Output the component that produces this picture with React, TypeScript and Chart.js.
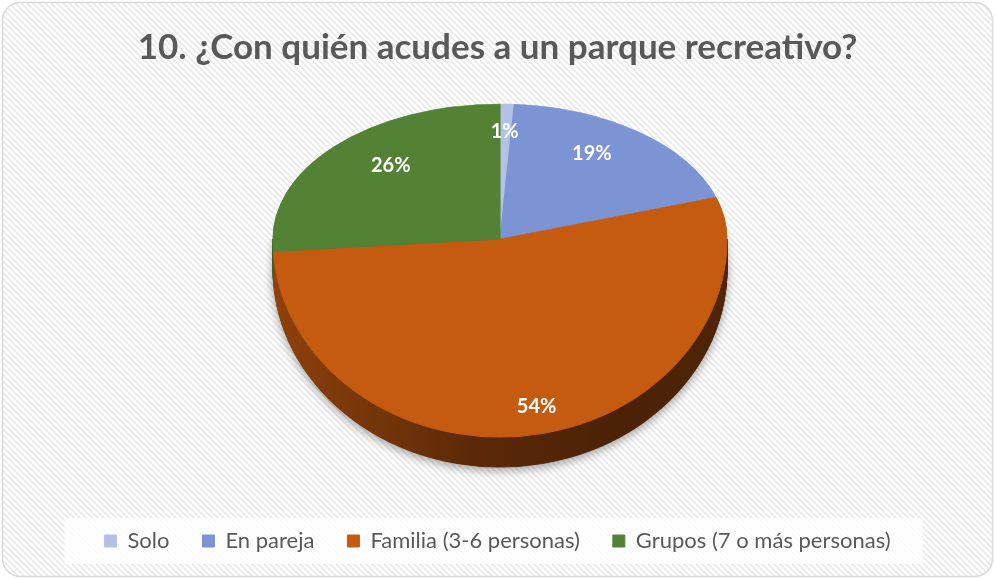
import React, { useEffect, useRef } from "react";
import { Chart, registerables } from "chart.js";

Chart.register(...registerables);

const TITLE = "10. ¿Con quién acudes a un parque recreativo?";
const CATEGORIES = ["Solo", "En pareja", "Familia (3-6 personas)", "Grupos (7 o más personas)"];
const VALUES = [1, 19, 54, 26];
const COLORS = ["#b4c1e6", "#7c94d4", "#c55a11", "#548235"];

const W = 995;
const H = 579;
const PIE_CX = 500;
const PIE_CY = 239;
const RX = 227;
const RY_TOP = 135;
const RY_BOTTOM = 198;
const DEPTH = 30;
const FONT = "Lato, 'Open Sans', sans-serif";
const TEXT_COLOR = "#595959";

function shade(hex: string, f: number) {
  const n = parseInt(hex.slice(1), 16);
  const r = Math.round(((n >> 16) & 255) * f);
  const g = Math.round(((n >> 8) & 255) * f);
  const b = Math.round((n & 255) * f);
  return `rgb(${r},${g},${b})`;
}

function roundRectPath(ctx: CanvasRenderingContext2D, x: number, y: number, w: number, h: number, r: number) {
  ctx.beginPath();
  ctx.moveTo(x + r, y);
  ctx.lineTo(x + w - r, y);
  ctx.arcTo(x + w, y, x + w, y + r, r);
  ctx.lineTo(x + w, y + h - r);
  ctx.arcTo(x + w, y + h, x + w - r, y + h, r);
  ctx.lineTo(x + r, y + h);
  ctx.arcTo(x, y + h, x, y + h - r, r);
  ctx.lineTo(x, y + r);
  ctx.arcTo(x, y, x + r, y, r);
  ctx.closePath();
}

function makeHatch(ctx: CanvasRenderingContext2D) {
  const s = 6;
  const c = document.createElement("canvas");
  c.width = s;
  c.height = s;
  const p = c.getContext("2d")!;
  p.fillStyle = "#ffffff";
  p.fillRect(0, 0, s, s);
  p.strokeStyle = "#e9e9e9";
  p.lineWidth = 1.6;
  p.beginPath();
  p.moveTo(-1, -1);
  p.lineTo(s + 1, s + 1);
  p.moveTo(-1, s - 1);
  p.lineTo(1, s + 1);
  p.moveTo(s - 1, -1);
  p.lineTo(s + 1, 1);
  p.stroke();
  return ctx.createPattern(c, "repeat")!;
}

const pie3dPlugin = {
  id: "pie3d",
  beforeDraw(chart: any) {
    const ctx: CanvasRenderingContext2D = chart.ctx;
    ctx.save();
    ctx.fillStyle = "#ffffff";
    ctx.fillRect(0, 0, chart.width, chart.height);
    roundRectPath(ctx, 2.5, 2.5, chart.width - 5, chart.height - 5, 18);
    ctx.save();
    ctx.clip();
    ctx.fillStyle = makeHatch(ctx);
    ctx.fillRect(0, 0, chart.width, chart.height);
    ctx.restore();
    // legend background
    const lg = chart.legend;
    if (lg && lg.legendHitBoxes && lg.legendHitBoxes.length) {
      const boxes = lg.legendHitBoxes;
      let l = Infinity, r = -Infinity, t = Infinity, b = -Infinity;
      boxes.forEach((hb: any) => {
        l = Math.min(l, hb.left);
        r = Math.max(r, hb.left + hb.width);
        t = Math.min(t, hb.top);
        b = Math.max(b, hb.top + hb.height);
      });
      const cyL = (t + b) / 2;
      ctx.fillStyle = "rgba(255,255,255,0.82)";
      ctx.fillRect(l - 40, cyL - 23, r - l + 72, 46);
    }
    roundRectPath(ctx, 2.5, 2.5, chart.width - 5, chart.height - 5, 18);
    ctx.lineWidth = 1.5;
    ctx.strokeStyle = "#d9d9d9";
    ctx.stroke();
    ctx.restore();
  },
  beforeDatasetsDraw(chart: any) {
    const ctx: CanvasRenderingContext2D = chart.ctx;
    const meta = chart.getDatasetMeta(0);
    const arcs = meta.data;
    if (!arcs.length) return false;
    const { x: x0, y: y0, outerRadius: R } = arcs[0].getProps(["x", "y", "outerRadius"], true);
    const apply = (ry: number, dy: number) => {
      ctx.translate(PIE_CX, PIE_CY + dy);
      ctx.scale(RX / R, ry / R);
      ctx.translate(-x0, -y0);
    };
    const drawWith = (arc: any, fill: any) => {
      const fake = Object.create(arc);
      fake.options = { ...arc.options, backgroundColor: fill, borderColor: fill };
      arc.draw.call(fake, ctx);
    };
    const sideFills = COLORS.map((c) => {
      const g = ctx.createLinearGradient(x0 - R, 0, x0 + R, 0);
      g.addColorStop(0, shade(c, 0.72));
      g.addColorStop(0.45, shade(c, 0.46));
      g.addColorStop(0.75, shade(c, 0.38));
      g.addColorStop(1, shade(c, 0.4));
      return g;
    });
    // side wall
    for (let d = DEPTH; d >= 1; d--) {
      ctx.save();
      ctx.beginPath();
      ctx.rect(0, PIE_CY, chart.width, chart.height);
      ctx.clip();
      if (d === DEPTH) {
        ctx.shadowColor = "rgba(0,0,0,0.35)";
        ctx.shadowBlur = 10;
        ctx.shadowOffsetY = 3;
      }
      apply(RY_BOTTOM, d);
      arcs.forEach((arc: any, i: number) => drawWith(arc, sideFills[i]));
      ctx.restore();
    }
    // top face: upper half
    ctx.save();
    ctx.beginPath();
    ctx.rect(0, 0, chart.width, PIE_CY + 1);
    ctx.clip();
    apply(RY_TOP, 0);
    arcs.forEach((arc: any) => arc.draw(ctx));
    ctx.restore();
    // top face: lower half
    ctx.save();
    ctx.beginPath();
    ctx.rect(0, PIE_CY, chart.width, chart.height);
    ctx.clip();
    apply(RY_BOTTOM, 0);
    arcs.forEach((arc: any) => arc.draw(ctx));
    ctx.restore();
    // labels
    const total = VALUES.reduce((a, b) => a + b, 0);
    ctx.save();
    ctx.fillStyle = "#ffffff";
    ctx.font = `bold 20px ${FONT}`;
    ctx.textAlign = "center";
    ctx.textBaseline = "middle";
    arcs.forEach((arc: any, i: number) => {
      const { startAngle, endAngle } = arc.getProps(["startAngle", "endAngle"], true);
      const mid = (startAngle + endAngle) / 2;
      const ux = Math.cos(mid);
      const uy = Math.sin(mid);
      const bottom = uy > 0;
      const fx = bottom ? 0.86 : 0.66;
      const fy = bottom ? 0.86 : 0.8;
      const sx = PIE_CX + RX * fx * ux;
      const sy = PIE_CY + (bottom ? RY_BOTTOM : RY_TOP) * fy * uy;
      ctx.fillText(Math.round((VALUES[i] / total) * 100) + "%", sx, sy);
    });
    ctx.restore();
    return false;
  },
};

export default function App() {
  const ref = useRef<HTMLCanvasElement>(null);
  useEffect(() => {
    if (!ref.current) return;
    const chart = new Chart(ref.current, {
      type: "pie",
      data: {
        labels: CATEGORIES,
        datasets: [
          {
            data: VALUES,
            backgroundColor: COLORS,
            borderColor: COLORS,
            borderWidth: 1,
          },
        ],
      },
      options: {
        responsive: false,
        animation: false,
        events: [],
        layout: { padding: { top: 17, bottom: 17, left: 10, right: 10 } },
        plugins: {
          title: {
            display: true,
            text: TITLE,
            color: TEXT_COLOR,
            font: { family: FONT, size: 35, weight: "bold" },
            padding: { top: 10, bottom: 10 },
          },
          legend: {
            position: "bottom",
            labels: {
              color: TEXT_COLOR,
              font: { family: FONT, size: 22 },
              boxWidth: 12,
              boxHeight: 12,
              padding: 33,
            },
          },
          tooltip: { enabled: false },
        },
      },
      plugins: [pie3dPlugin],
    });
    return () => chart.destroy();
  }, []);
  return (
    <div style={{ position: "absolute", left: 0, top: 0, width: W, height: H }}>
      <canvas ref={ref} width={W} height={H} style={{ display: "block" }} />
    </div>
  );
}
